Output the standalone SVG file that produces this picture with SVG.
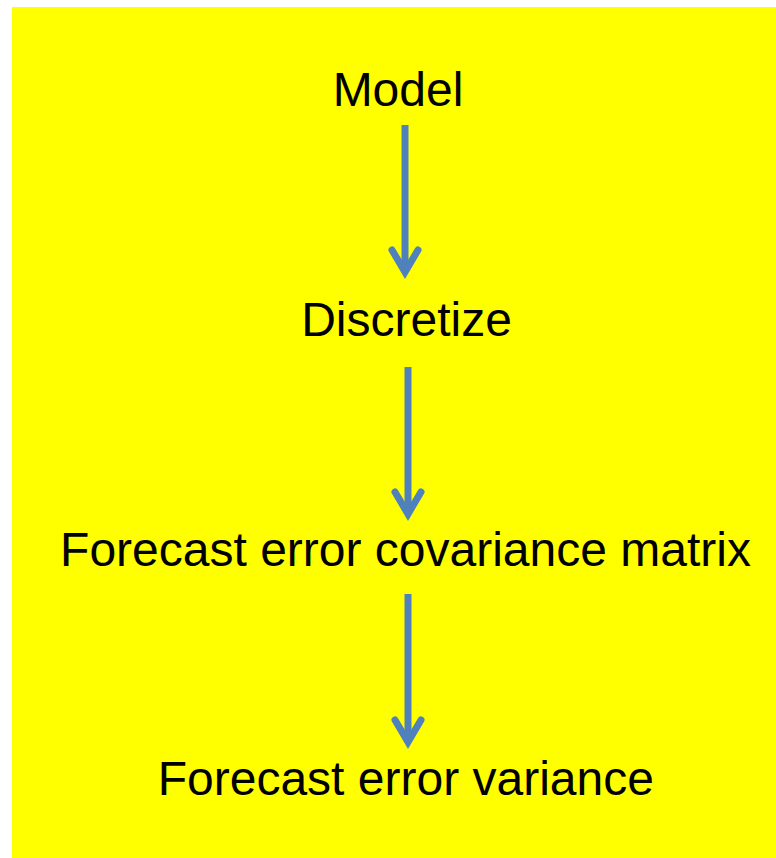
<svg xmlns="http://www.w3.org/2000/svg" width="776" height="858" viewBox="0 0 776 858">
<style>
.lbl{font-family:"Liberation Sans",Arial,sans-serif;font-size:48px;fill:#000;text-anchor:middle}
.shaft{stroke:#4F81BD;stroke-width:7;fill:none}
.head{stroke:#4F81BD;stroke-width:7;fill:none;stroke-linecap:round;stroke-linejoin:miter}
</style>
<rect x="12" y="7" width="764" height="851" fill="#FFFF00"/>
<g id="connectors">
<g id="c1"><line class="shaft" x1="405" y1="125" x2="405" y2="270"/><polyline class="head" points="392,250 405,272 418,250"/></g>
<g id="c2"><line class="shaft" x1="408" y1="367" x2="408" y2="512"/><polyline class="head" points="395,492 408,514 421,492"/></g>
<g id="c3"><line class="shaft" x1="408" y1="594" x2="408" y2="740"/><polyline class="head" points="395,720 408,742 421,720"/></g>
</g>
<g id="n1"><text class="lbl" x="398" y="106">Model</text></g>
<g id="n2"><text class="lbl" x="406.5" y="336">Discretize</text></g>
<g id="n3"><text class="lbl" x="405.5" y="566">Forecast error covariance matrix</text></g>
<g id="n4"><text class="lbl" x="405.8" y="794.5">Forecast error variance</text></g>
</svg>
